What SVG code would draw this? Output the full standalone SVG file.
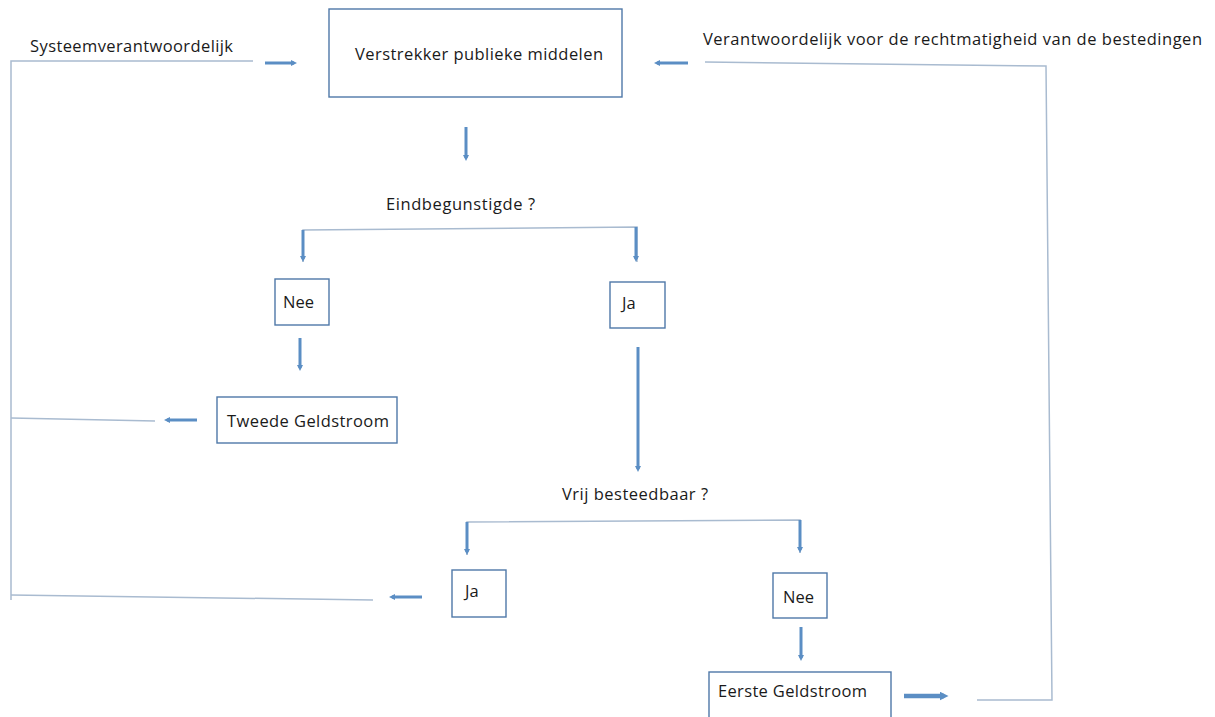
<svg xmlns="http://www.w3.org/2000/svg" width="1215" height="717" viewBox="0 0 1215 717">
<defs>
<marker id="ah" viewBox="0 0 6 6" refX="3" refY="3" markerWidth="2" markerHeight="2" orient="auto" markerUnits="strokeWidth">
<path d="M0,0 L6,3 L0,6 z" fill="#5b8ec4"/>
</marker>
<style>
text{font-family:"Open Sans","Liberation Sans",sans-serif;font-size:16.5px;fill:#1a1a1a}
.box{fill:#fff;stroke:#4f78a8;stroke-width:1.4}
.ln{fill:none;stroke:#a9bbd0;stroke-width:1.5}
.ar{fill:none;stroke:#5b8ec4;stroke-width:3;marker-end:url(#ah)}
.arb{fill:none;stroke:#5b8ec4;stroke-width:4.5;marker-end:url(#ah)}
</style>
</defs>
<rect width="1215" height="717" fill="#fff"/>
<g id="connectors">
<polyline class="ln" points="253,61 11,61 11,600"/>
<polyline class="ln" points="705,62 1046,66 1052,700 977,700"/>
<line class="ln" x1="11" y1="418" x2="155" y2="421"/>
<line class="ln" x1="11" y1="595" x2="373" y2="600"/>
<polyline class="ln" points="303,262 303,230 637,227 637,262"/>
<polyline class="ln" points="467,555 467,522 800,520 800,553"/>
<line class="ar" x1="265" y1="63" x2="294" y2="63"/>
<line class="ar" x1="688" y1="63" x2="657" y2="63"/>
<line class="ar" x1="466" y1="127" x2="466" y2="158"/>
<line class="ar" x1="303" y1="230" x2="303" y2="259"/>
<line class="ar" x1="636" y1="227" x2="636" y2="259"/>
<line class="ar" x1="300" y1="338" x2="300" y2="368"/>
<line class="ar" x1="197" y1="420" x2="167" y2="420"/>
<line class="ar" x1="638" y1="347" x2="638" y2="469"/>
<line class="ar" x1="467" y1="522" x2="467" y2="552"/>
<line class="ar" x1="800" y1="520" x2="800" y2="550"/>
<line class="ar" x1="422" y1="597" x2="392" y2="597"/>
<line class="ar" x1="801" y1="627" x2="801" y2="658"/>
<line class="arb" x1="904" y1="696" x2="944" y2="696"/>
</g>
<g id="label-systeem"><text x="30" y="52" textLength="203">Systeemverantwoordelijk</text></g>
<g id="label-rechtmatigheid"><text x="703" y="45" textLength="499">Verantwoordelijk voor de rechtmatigheid van de bestedingen</text></g>
<g id="node-verstrekker">
<rect class="box" x="329" y="9" width="293" height="88"/>
<text x="355" y="60" textLength="248">Verstrekker publieke middelen</text>
</g>
<g id="label-eindbegunstigde"><text x="386" y="210" textLength="149">Eindbegunstigde ?</text></g>
<g id="node-nee1">
<rect class="box" x="275" y="279" width="54" height="46"/>
<text x="283" y="308">Nee</text>
</g>
<g id="node-ja1">
<rect class="box" x="610" y="282" width="55" height="46"/>
<text x="622" y="309">Ja</text>
</g>
<g id="node-tweede">
<rect class="box" x="217" y="397" width="180" height="46"/>
<text x="227" y="427" textLength="162">Tweede Geldstroom</text>
</g>
<g id="label-vrij"><text x="562" y="500" textLength="146">Vrij besteedbaar ?</text></g>
<g id="node-ja2">
<rect class="box" x="452" y="570" width="54" height="47"/>
<text x="465" y="597">Ja</text>
</g>
<g id="node-nee2">
<rect class="box" x="773" y="573" width="54" height="45"/>
<text x="783" y="603">Nee</text>
</g>
<g id="node-eerste">
<rect class="box" x="709" y="672" width="182" height="60"/>
<text x="718" y="697" textLength="149">Eerste Geldstroom</text>
</g>
</svg>
